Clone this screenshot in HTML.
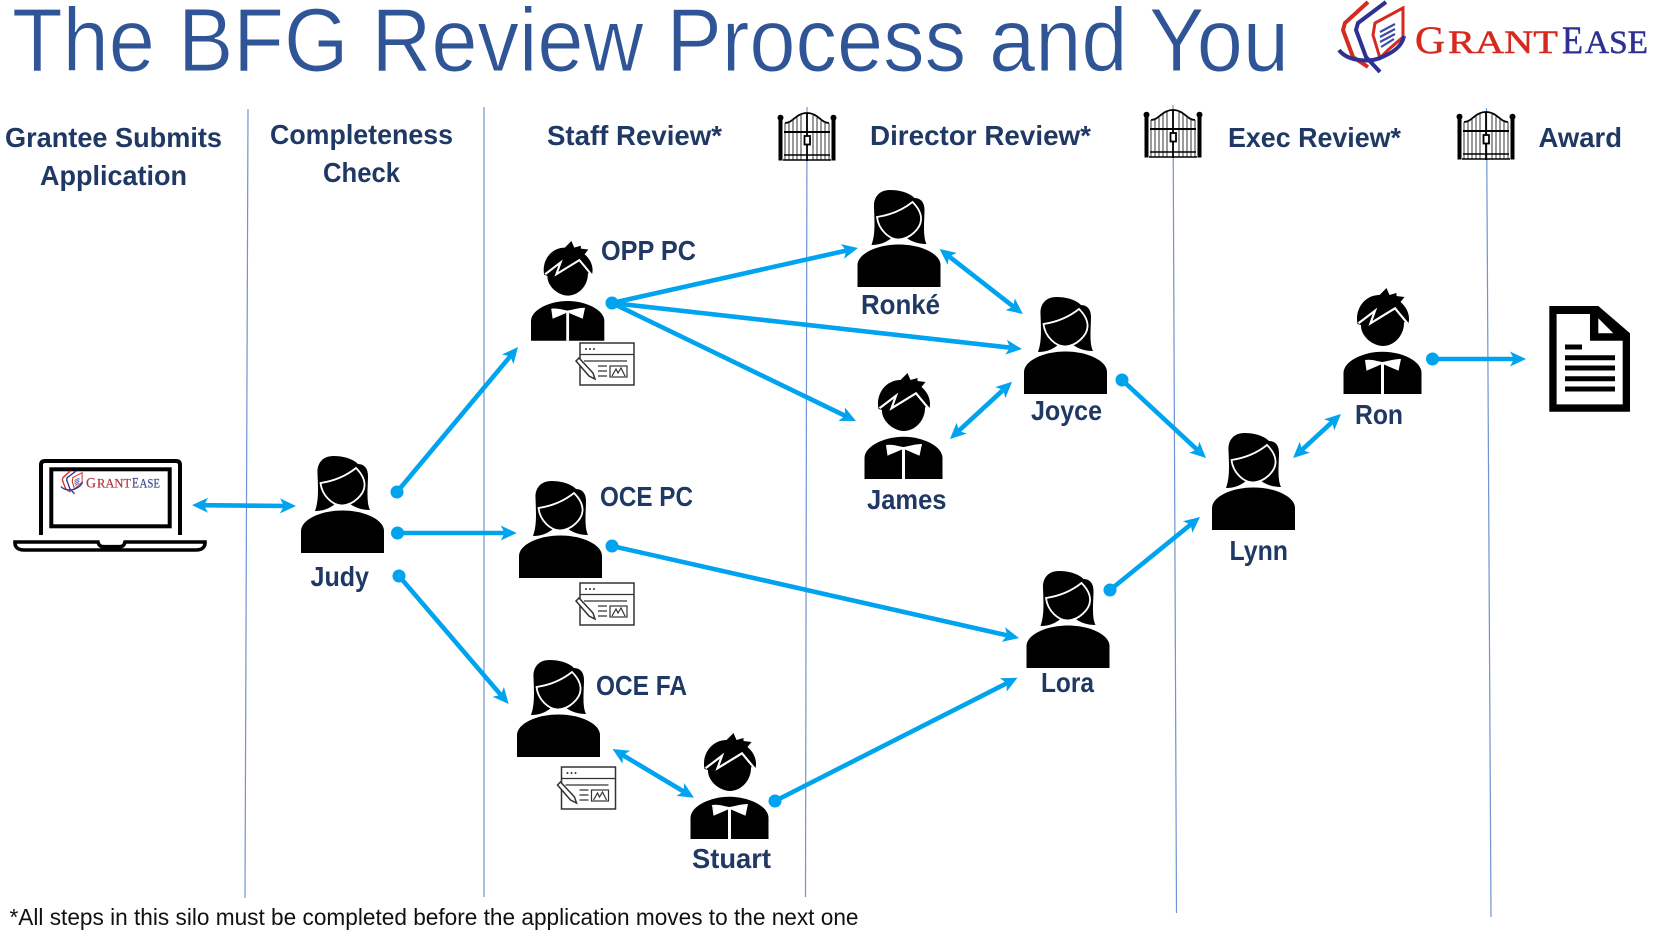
<!DOCTYPE html>
<html>
<head>
<meta charset="utf-8">
<style>
html,body{margin:0;padding:0;background:#fff;width:1662px;height:930px;overflow:hidden}
svg{display:block}
.h{font-family:"Liberation Sans",sans-serif;font-weight:bold;font-size:28px;fill:#1f3864}
.s{font-family:"Liberation Serif",serif}
</style>
</head>
<body>
<svg width="1662" height="930" viewBox="0 0 1662 930" xmlns="http://www.w3.org/2000/svg">
<defs>
<marker id="a" markerUnits="userSpaceOnUse" markerWidth="18" markerHeight="17" refX="9" refY="7.5" orient="auto-start-reverse" overflow="visible">
<path d="M0 0L16 7.5L0 15L4 7.5Z" fill="#00a3ee"/>
</marker>
<g id="woman">
<path d="M1 97V75C1 64 20 54.5 42.5 54.5C65 54.5 84 64 84 75V97Z" fill="#000"/>
<path d="M33.5 0C22 0 17 8 17.5 17C18 32 19 44 15 55C24 55 30 52 35 48L50 48C56 52 62 54 70 54C66 46 68 30 68 20C68 12 64 8 58 8C52 2 42 0 33.5 0Z" fill="#000"/>
<path d="M20.5 27C34 25 46 20 56 12C62 18 65 24 64.5 30C64 38 54 49 42 49.5C33 49.5 22 40 20.5 27Z" fill="#000" stroke="#fff" stroke-width="1.8"/>
</g>
<g id="man">
<path d="M14 35C11 19 22 6 36 6L43 -1L46 6L53 4L53 7L61 8L57 13C63 18 67 26 65 34L60.5 33C61 47 50 57 39.5 57C29 57 17 47 17.5 36Z" fill="#000"/>
<path d="M15 34.3L31.5 21.7L27 34.3L51.5 19.3L64 34.3" fill="none" stroke="#fff" stroke-width="2.2"/>
<path d="M0 105V84C0 72 20 62.7 39 62.7C58 62.7 78 72 78 84V105Z" fill="#000"/>
<path d="M21.5 71C28 70 33 72 39 73C45 72 51 70 57.5 70L55 81.7L40.5 75.5V105H37.5V75.5L23 81.7Z" fill="#fff"/>
</g>
<g id="form" fill="none" stroke="#333" stroke-width="1.2">
<rect x="0" y="0" width="54" height="42" fill="#fff" stroke-width="1.5"/>
<path d="M0 11.5H54M4 18H47M18 23H27M18 28H27M18 33H27"/>
<rect x="30" y="23" width="17" height="11"/>
<path d="M32 33L36 26L38 30L41 25L45 33"/>
<circle cx="6" cy="6" r="1" fill="#333" stroke="none"/>
<circle cx="10" cy="6" r="1" fill="#333" stroke="none"/>
<circle cx="14" cy="6" r="1" fill="#333" stroke="none"/>
<path d="M-4 18L-1 15L13 30L15 36L9 33Z" fill="#fff" stroke-width="1.5"/>
</g>
<g id="gate" fill="none" stroke="#000" stroke-width="1">
<rect x="0.5" y="7" width="4" height="40.5" fill="#000" stroke="none"/>
<rect x="53.5" y="7" width="4" height="40.5" fill="#000" stroke="none"/>
<circle cx="2.5" cy="4.7" r="3" fill="#000" stroke="none"/>
<circle cx="55.5" cy="4.7" r="3" fill="#000" stroke="none"/>
<path d="M7 10C15 10 18 0 29 0C40 0 43 10 51 10" stroke-width="1.8"/>
<path d="M7 10V47M11 8V47M15 6V47M19 3V47M23 1V47M35 1V47M39 3V47M43 6V47M47 8V47M51 10V47" stroke="#222" stroke-width=".9"/>
<path d="M29 0V48" stroke-width="1.8"/>
<path d="M6 19H52" stroke-width="2"/>
<path d="M6 42H52M5 47H53" stroke-width="1.5"/>
<rect x="26.5" y="23" width="5.5" height="8.5" fill="#fff" stroke-width="1.8"/>
</g>
<g id="logo" fill="none" stroke-linejoin="miter">
<path d="M48 2L25 23L23 30L33 57L48 67" stroke="#d42a20" stroke-width="4"/>
<path d="M66 2L38 23L36 30L46 57L60 72" stroke="#2e3192" stroke-width="4"/>
<path d="M83 8L55 23L53 35L60 58L68 50L83 37Z" stroke="#d42a20" stroke-width="3"/>
<path d="M19 50C28 62 50 62 60 58C72 53 82 47 84 36" stroke="#2e3192" stroke-width="4"/>
<path d="M60 32L75 24M60 37L75 29M60 42L75 34M61 47L74 39" stroke="#3d4aa8" stroke-width="2.2"/>
</g>
</defs>

<rect width="1662" height="930" fill="#fff"/>

<text x="12" y="71" font-family="'Liberation Sans',sans-serif" font-size="90" fill="#2f5597" stroke="#fff" stroke-width="1" textLength="1277" lengthAdjust="spacingAndGlyphs">The BFG Review Process and You</text>

<use href="#logo" transform="translate(1320,0)"/>
<g class="s" font-family="'Liberation Serif',serif" lengthAdjust="spacingAndGlyphs">
<text x="1415" y="53" font-size="39" fill="#d42a20" stroke="#d42a20" stroke-width=".5" textLength="30" lengthAdjust="spacingAndGlyphs">G</text>
<text x="1448" y="53" font-size="33" fill="#d42a20" stroke="#d42a20" stroke-width=".5" textLength="110" lengthAdjust="spacingAndGlyphs">RANT</text>
<text x="1562" y="53" font-size="39" fill="#2e3192" stroke="#2e3192" stroke-width=".5" textLength="21" lengthAdjust="spacingAndGlyphs">E</text>
<text x="1585" y="53" font-size="33" fill="#2e3192" stroke="#2e3192" stroke-width=".5" textLength="63" lengthAdjust="spacingAndGlyphs">ASE</text>
</g>

<g stroke="#6f94cf" stroke-width="1.2" fill="none">
<path d="M248 109L245 898"/>
<path d="M484 107V897"/>
<path d="M807 107L805.5 897"/>
<path d="M1173 105L1176.5 913"/>
<path d="M1486.5 108L1491 917"/>
</g>

<use href="#gate" x="778" y="113"/>
<use href="#gate" x="1144" y="110"/>
<use href="#gate" x="1457" y="112"/>

<text class="h" x="5" y="147" textLength="217" lengthAdjust="spacingAndGlyphs">Grantee Submits</text>
<text class="h" x="40" y="185" textLength="147" lengthAdjust="spacingAndGlyphs">Application</text>
<text class="h" x="270" y="144" textLength="183" lengthAdjust="spacingAndGlyphs">Completeness</text>
<text class="h" x="323" y="182" textLength="77" lengthAdjust="spacingAndGlyphs">Check</text>
<text class="h" x="547" y="145" textLength="175" lengthAdjust="spacingAndGlyphs">Staff Review*</text>
<text class="h" x="870" y="145" textLength="221" lengthAdjust="spacingAndGlyphs">Director Review*</text>
<text class="h" x="1228" y="147" textLength="173" lengthAdjust="spacingAndGlyphs">Exec Review*</text>
<text class="h" x="1538.5" y="147" textLength="83.5" lengthAdjust="spacingAndGlyphs">Award</text>

<text class="h" x="601" y="260" textLength="95" lengthAdjust="spacingAndGlyphs">OPP PC</text>
<text class="h" x="600" y="506" textLength="93" lengthAdjust="spacingAndGlyphs">OCE PC</text>
<text class="h" x="596" y="695" textLength="91" lengthAdjust="spacingAndGlyphs">OCE FA</text>
<text class="h" x="310.5" y="586" textLength="58.5" lengthAdjust="spacingAndGlyphs">Judy</text>
<text class="h" x="692" y="868" textLength="79" lengthAdjust="spacingAndGlyphs">Stuart</text>
<text class="h" x="861" y="314" textLength="79" lengthAdjust="spacingAndGlyphs">Ronké</text>
<text class="h" x="1031" y="420" textLength="71" lengthAdjust="spacingAndGlyphs">Joyce</text>
<text class="h" x="867" y="509" textLength="79.5" lengthAdjust="spacingAndGlyphs">James</text>
<text class="h" x="1041" y="692" textLength="53" lengthAdjust="spacingAndGlyphs">Lora</text>
<text class="h" x="1229.5" y="560" textLength="58.5" lengthAdjust="spacingAndGlyphs">Lynn</text>
<text class="h" x="1355" y="424" textLength="48" lengthAdjust="spacingAndGlyphs">Ron</text>

<text x="9.5" y="925" font-family="'Liberation Sans',sans-serif" font-size="23" fill="#111" textLength="849" lengthAdjust="spacingAndGlyphs">*All steps in this silo must be completed before the application moves to the next one</text>

<!-- People -->
<use href="#woman" x="856.5" y="190"/>
<use href="#woman" x="1023" y="297"/>
<use href="#woman" x="300" y="456"/>
<use href="#woman" x="518" y="481"/>
<use href="#woman" x="516" y="660"/>
<use href="#woman" x="1025.5" y="571"/>
<use href="#woman" x="1211" y="433"/>
<use href="#man" transform="translate(531,242) scale(.94)"/>
<use href="#man" x="1343.5" y="289"/>
<use href="#man" x="864.5" y="374"/>
<use href="#man" x="690.5" y="734"/>

<!-- Forms -->
<use href="#form" x="580" y="343"/>
<use href="#form" x="580" y="583"/>
<use href="#form" x="561.5" y="767"/>

<!-- Laptop -->
<g fill="none" stroke="#000">
<path d="M41 535V465Q41 461 45 461H176Q180 461 180 465V535" stroke-width="4"/>
<rect x="51.3" y="469.3" width="118.4" height="57" stroke-width="4"/>
<path d="M15 542H98C99 546 101 546.7 104 546.7H119C122 546.7 124 546 125 542H205V543C205 547 202 550 196 550H24C18 550 15 547 15 543Z" stroke-width="3.6"/>
</g>
<use href="#logo" transform="translate(61,470) scale(.33) translate(-19,0)"/>
<g font-family="'Liberation Serif',serif">
<text x="86" y="487.7" font-size="15" fill="#b5373a" stroke="#b5373a" stroke-width=".2" textLength="10" lengthAdjust="spacingAndGlyphs">G</text>
<text x="97" y="487.7" font-size="13" fill="#b5373a" stroke="#b5373a" stroke-width=".2" textLength="34" lengthAdjust="spacingAndGlyphs">RANT</text>
<text x="132" y="487.7" font-size="15" fill="#3a4a92" stroke="#3a4a92" stroke-width=".2" textLength="7" lengthAdjust="spacingAndGlyphs">E</text>
<text x="139.5" y="487.7" font-size="13" fill="#3a4a92" stroke="#3a4a92" stroke-width=".2" textLength="20.5" lengthAdjust="spacingAndGlyphs">ASE</text>
</g>

<!-- Document -->
<path d="M1549.3 306H1598.3L1630 333.3V411.7H1549.3Z" fill="#000"/>
<path d="M1556.6 314H1590V340.7H1622.7V404.4H1556.6Z" fill="#fff"/>
<path d="M1598.3 318.3V333.3H1613.3Z" fill="#fff"/>
<path d="M1565 347H1582M1565 357.7H1615M1565 368H1615M1565 378.7H1615M1565 389H1615" stroke="#000" stroke-width="5"/>

<!-- Connectors -->
<g stroke="#00a3ee" stroke-width="4.6" fill="none">
<path d="M199 505.2L289 506" marker-start="url(#a)" marker-end="url(#a)"/>
<path d="M397 492L513.5 352.4" marker-end="url(#a)"/>
<path d="M397.5 533H509.7" marker-end="url(#a)"/>
<path d="M399 576L504.1 698.7" marker-end="url(#a)"/>
<path d="M612 303L851.2 249.5" marker-end="url(#a)"/>
<path d="M612 303L1015 348.2" marker-end="url(#a)"/>
<path d="M612 303L849.7 418" marker-end="url(#a)"/>
<path d="M945.1 253.3L1017.3 309.7" marker-start="url(#a)" marker-end="url(#a)"/>
<path d="M955.1 434.2L1006.9 386.5" marker-start="url(#a)" marker-end="url(#a)"/>
<path d="M1122 380L1200.9 453.2" marker-end="url(#a)"/>
<path d="M612 546L1012.2 636.5" marker-end="url(#a)"/>
<path d="M618.6 752.6L688 794.1" marker-start="url(#a)" marker-end="url(#a)"/>
<path d="M775 801L1011.3 680.9" marker-end="url(#a)"/>
<path d="M1110 590L1194.6 521.4" marker-end="url(#a)"/>
<path d="M1298.2 453.3L1335.8 418.7" marker-start="url(#a)" marker-end="url(#a)"/>
<path d="M1432.5 359H1519" marker-end="url(#a)"/>
</g>
<g fill="#00a3ee">
<circle cx="397" cy="492" r="6.5"/>
<circle cx="397.5" cy="533" r="6.5"/>
<circle cx="399" cy="576" r="6.5"/>
<circle cx="612" cy="303" r="6.5"/>
<circle cx="1122" cy="380" r="6.5"/>
<circle cx="612" cy="546" r="6.5"/>
<circle cx="775" cy="801" r="6.5"/>
<circle cx="1110" cy="590" r="6.5"/>
<circle cx="1432.5" cy="359" r="6.5"/>
</g>
</svg>
</body>
</html>
